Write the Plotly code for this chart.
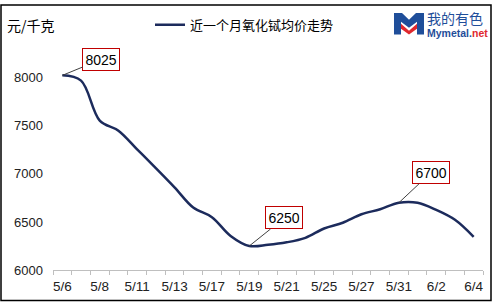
import plotly.graph_objects as go

# ---- data ----
dates = ["5/6", "5/7", "5/8", "5/10", "5/11", "5/12", "5/13", "5/14", "5/17", "5/18",
         "5/19", "5/20", "5/21", "5/24", "5/25", "5/26", "5/27", "5/28", "5/31", "6/1",
         "6/2", "6/3", "6/4"]
prices = [8025, 7970, 7555, 7450, 7255, 7060, 6860, 6650, 6550, 6355,
          6250, 6262, 6288, 6335, 6432, 6492, 6580, 6632, 6700, 6700,
          6625, 6522, 6345]
tick_labels = ["5/6", "5/8", "5/11", "5/13", "5/17", "5/19", "5/21", "5/25", "5/27",
               "5/31", "6/2", "6/4"]
y_ticks = [6000, 6500, 7000, 7500, 8000]
label_dates = ["5/6", "5/19", "5/31"]
series_name = "近一个月氧化铽均价走势"
unit_text = "元/千克"

W, H = 493, 304
L, R, T, B = 53, 10, 69, 34
PW, PH = W - L - R, H - T - B


def px(xp):
    return (xp - L) / PW


def py(yp):
    return (H - B - yp) / PH


NAVY = "#1C2B5C"
fig = go.Figure()
fig.add_trace(go.Scatter(
    x=dates, y=prices, mode="lines", name=series_name,
    line=dict(color=NAVY, width=2.5, shape="spline", smoothing=1),
))

ticktext = [d if d in tick_labels else "" for d in dates]

# data label annotations
offsets = {"5/6": (39, -16), "5/19": (35, -28), "5/31": (32, -30)}
for d in label_dates:
    i = dates.index(d)
    ax, ay = offsets[d]
    fig.add_annotation(
        x=d, y=prices[i], xref="x", yref="y", text=str(prices[i]),
        showarrow=True, arrowhead=0, arrowwidth=1, arrowcolor="#404040",
        ax=ax, ay=ay, standoff=0,
        font=dict(family="Liberation Sans", size=14, color="#000000"),
        bgcolor="#FFFFFF", bordercolor="#C00000", borderwidth=1, borderpad=2.5,
    )

# unit label
fig.add_annotation(
    x=px(5), y=py(21), xref="paper", yref="paper", xanchor="left", yanchor="middle",
    text=unit_text, showarrow=False,
    font=dict(family="Noto Sans CJK SC", size=14, color="#000000"),
)

# logo text
fig.add_annotation(
    x=px(425), y=py(14), xref="paper", yref="paper", xanchor="left", yanchor="middle",
    text="我的有色", showarrow=False,
    font=dict(family="Noto Sans CJK SC", size=14, color="#1F4E9A"),
)
fig.add_annotation(
    x=px(425), y=py(29.5), xref="paper", yref="paper", xanchor="left", yanchor="middle",
    text="<b>Mymetal.</b>", showarrow=False,
    font=dict(family="Liberation Sans", size=10.5, color="#1F4E9A"),
)
fig.add_annotation(
    x=px(469.5), y=py(29.5), xref="paper", yref="paper", xanchor="left", yanchor="middle",
    text="<b>net</b>", showarrow=False,
    font=dict(family="Liberation Sans", size=10.5, color="#E0282E"),
)


def poly(points, color):
    path = "M " + " L ".join(f"{px(a):.5f},{py(b):.5f}" for a, b in points) + " Z"
    return dict(type="path", xref="paper", yref="paper", path=path,
                fillcolor=color, line=dict(width=0), layer="above")


shapes = [
    # frame
    dict(type="rect", xref="paper", yref="paper",
         x0=px(1), x1=px(491), y0=py(301), y1=py(1),
         line=dict(color="#000000", width=1.5), fillcolor="rgba(0,0,0,0)", layer="above"),
    # logo M
    poly([(394, 31), (394, 9), (402, 9), (409, 16), (416, 9), (424, 9), (424, 31),
          (417, 31), (417, 18), (409, 24), (401, 18), (401, 31)], "#1F4E9A"),
    poly([(401, 20), (409, 27), (417, 20), (417, 25), (409, 31), (401, 25)], "#E0282E"),
]

fig.update_layout(
    width=W, height=H,
    margin=dict(l=L, r=R, t=T, b=B),
    paper_bgcolor="#FFFFFF", plot_bgcolor="#FFFFFF",
    showlegend=True,
    legend=dict(orientation="h", x=px(150), y=py(21), xanchor="left", yanchor="middle",
                font=dict(family="Noto Sans CJK SC", size=13, color="#000000"),
                bgcolor="rgba(0,0,0,0)"),
    shapes=shapes,
    xaxis=dict(type="category", categoryorder="array", categoryarray=dates,
               range=[-0.5, len(dates) - 0.5],
               tickmode="array", tickvals=dates, ticktext=ticktext,
               tickson="boundaries", ticks="outside", ticklen=4, tickcolor="#BFBFBF",
               showline=True, linecolor="#BFBFBF", linewidth=1, showgrid=False,
               tickangle=0, ticklabelstandoff=4,
               tickfont=dict(family="Liberation Sans", size=13.5, color="#222222")),
    yaxis=dict(range=[6000, 8060], tickmode="array", tickvals=y_ticks,
               ticktext=[str(v) for v in y_ticks],
               showline=False, showgrid=False, zeroline=False, ticks="",
               ticklabelstandoff=9,
               tickfont=dict(family="Liberation Sans", size=13, color="#222222")),
)

fig.write_html("out.html")
